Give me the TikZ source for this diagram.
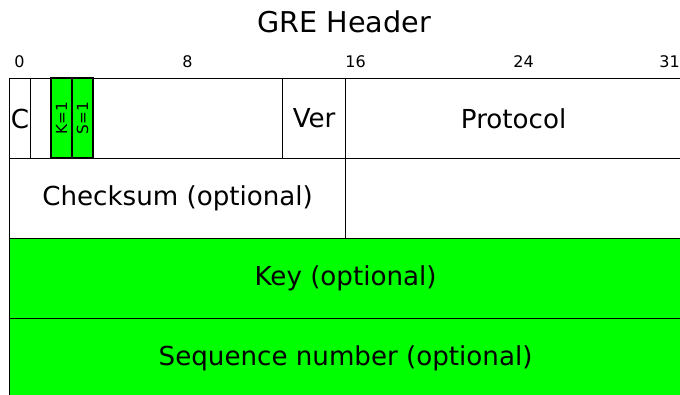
\documentclass[tikz,border=0pt]{standalone}
\usepackage{fontspec}
\setmainfont{DejaVu Sans}
\definecolor{keygreen}{RGB}{0,255,0}
\begin{document}
\begin{tikzpicture}[x=0.75pt,y=-0.75pt,
  field/.style={draw=black, line width=0.9pt, inner sep=0pt, minimum height=60pt,
    anchor=north west, font=\fontsize{19.6}{22}\selectfont},
  flag/.style={draw=black, line width=0.9pt, inner sep=0pt, fill=keygreen, rotate=90,
    minimum width=60pt, minimum height=15.75pt, font=\fontsize{11.5}{13}\selectfont},
  bitnum/.style={font=\fontsize{12}{14}\selectfont, inner sep=0pt},
  titletext/.style={font=\fontsize{21.5}{26}\selectfont, inner sep=0pt}]
\useasboundingbox (0,0) rectangle (680,395);
\clip (0,0) rectangle (680,395);
% title
\node[titletext] (title) at (344,22) {GRE Header};
% bit numbers
\node[bitnum] (b0) at (19.5,62) {0};
\node[bitnum] (b8) at (187.5,62) {8};
\node[bitnum] (b16) at (355.5,62) {16};
\node[bitnum] (b24) at (523.5,62) {24};
\node[bitnum] (b31) at (669.5,62) {31};
% row 1
\node[field, minimum width=15.75pt] (c) at (9,78) {C};
\node[field, minimum width=15.75pt] (r1) at (30,78) {};
\node[flag] (k) at (61.5,118) {K=1};
\node[flag] (s) at (82.5,118) {S=1};
\node[field, minimum width=141.75pt] (r2) at (93,78) {};
\node[field, minimum width=47.25pt] (ver) at (282,78) {Ver};
\node[field, minimum width=252pt] (proto) at (345,78) {Protocol};
% row 2
\node[field, minimum width=252pt] (csum) at (9,158) {Checksum (optional)};
\node[field, minimum width=252pt] (res) at (345,158) {};
% row 3
\node[field, fill=keygreen, minimum width=504pt] (key) at (9,238) {Key (optional)};
% row 4
\node[field, fill=keygreen, minimum width=504pt] (seq) at (9,318) {Sequence number (optional)};
\end{tikzpicture}
\end{document}
